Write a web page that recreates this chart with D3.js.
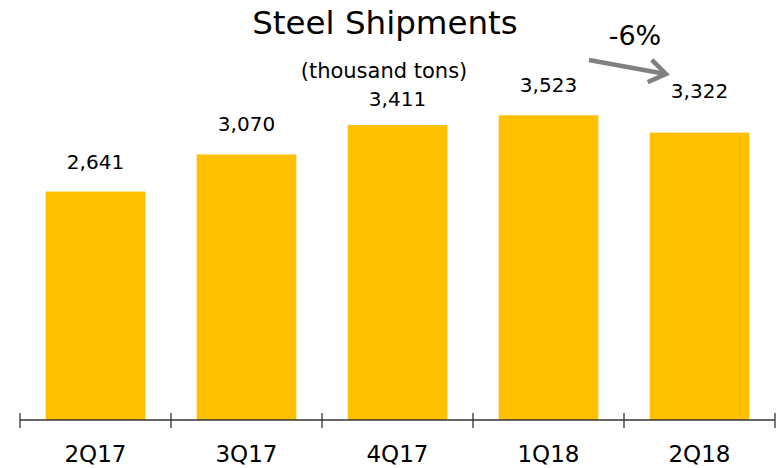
<!DOCTYPE html>
<html>
<head>
<meta charset="utf-8">
<script src="https://cdn.jsdelivr.net/npm/d3@7"></script>
<style>
  body { margin: 0; padding: 0; background: #fff; }
  text { font-family: "DejaVu Sans", Verdana, sans-serif; fill: #000; }
</style>
</head>
<body>
<script>
// steel shipments, thousand tons
const quarters = ["2Q17", "3Q17", "4Q17", "1Q18", "2Q18"]
const shipments = [2641, 3070, 3411, 3523, 3322]
const changeLabel = "-6%"

const width = 778
const height = 468
const baseY = 420

const svg = d3.select("body").append("svg")
  .attr("width", width)
  .attr("height", height)

const x = d3.scaleBand()
  .domain(quarters)
  .range([20, 775])
  .paddingInner(0.34)
  .paddingOuter(0.17)

const y = d3.scaleLinear()
  .domain([0, 4000])
  .range([baseY, baseY - 346])

// bars
svg.append("g")
  .selectAll("rect")
  .data(quarters)
  .join("rect")
  .attr("x", d => x(d))
  .attr("y", (d, i) => y(shipments[i]))
  .attr("width", x.bandwidth())
  .attr("height", (d, i) => baseY - y(shipments[i]))
  .attr("fill", "#FFC000")

// value labels (2Q18 sits a bit higher to make room for the arrow)
const lift = { "4Q17": 19, "2Q18": 35 }
svg.append("g")
  .selectAll("text")
  .data(quarters)
  .join("text")
  .attr("x", d => x(d) + x.bandwidth() / 2)
  .attr("y", (d, i) => y(shipments[i]) - (lift[d] || 23))
  .attr("text-anchor", "middle")
  .attr("font-size", "20px")
  .text((d, i) => d3.format(",")(shipments[i]))

// x axis: line with ticks at category boundaries
const step = x.step()
const edges = d3.range(quarters.length + 1).map(i => x.range()[0] + i * step)
const axis = svg.append("g").attr("stroke", "#333").attr("stroke-width", 1.3)
axis.append("line")
  .attr("x1", 20).attr("x2", 775)
  .attr("y1", baseY).attr("y2", baseY)
axis.selectAll("line.tick")
  .data(edges)
  .join("line")
  .attr("class", "tick")
  .attr("x1", d => d).attr("x2", d => d)
  .attr("y1", baseY - 7).attr("y2", baseY + 8)

svg.append("g")
  .selectAll("text")
  .data(quarters)
  .join("text")
  .attr("x", d => x(d) + x.bandwidth() / 2)
  .attr("y", 462)
  .attr("text-anchor", "middle")
  .attr("font-size", "23px")
  .text(d => d)

// titles
svg.append("text")
  .attr("x", 385).attr("y", 34)
  .attr("text-anchor", "middle")
  .attr("font-size", "32.5px")
  .text("Steel Shipments")

svg.append("text")
  .attr("x", 384).attr("y", 78)
  .attr("text-anchor", "middle")
  .attr("font-size", "21px")
  .text("(thousand tons)")

// change arrow from 1Q18 to 2Q18
const a0 = [589, 60], a1 = [666, 74]
const ang = Math.atan2(a1[1] - a0[1], a1[0] - a0[0])
const head = 20
const wing = a => [a1[0] - head * Math.cos(ang + a), a1[1] - head * Math.sin(ang + a)]
svg.append("path")
  .attr("d", d3.line()([a0, [a1[0] - 3, a1[1] - 0.5]]))
  .attr("stroke", "#808080").attr("stroke-width", 4.5).attr("fill", "none")
svg.append("path")
  .attr("d", d3.line()([wing(-0.6), a1, wing(0.6)]))
  .attr("stroke", "#808080").attr("stroke-width", 4.5).attr("fill", "none")
  .attr("stroke-linejoin", "miter")

svg.append("text")
  .attr("x", 635).attr("y", 45)
  .attr("text-anchor", "middle")
  .attr("font-size", "27px")
  .text(changeLabel)
</script>
</body>
</html>
